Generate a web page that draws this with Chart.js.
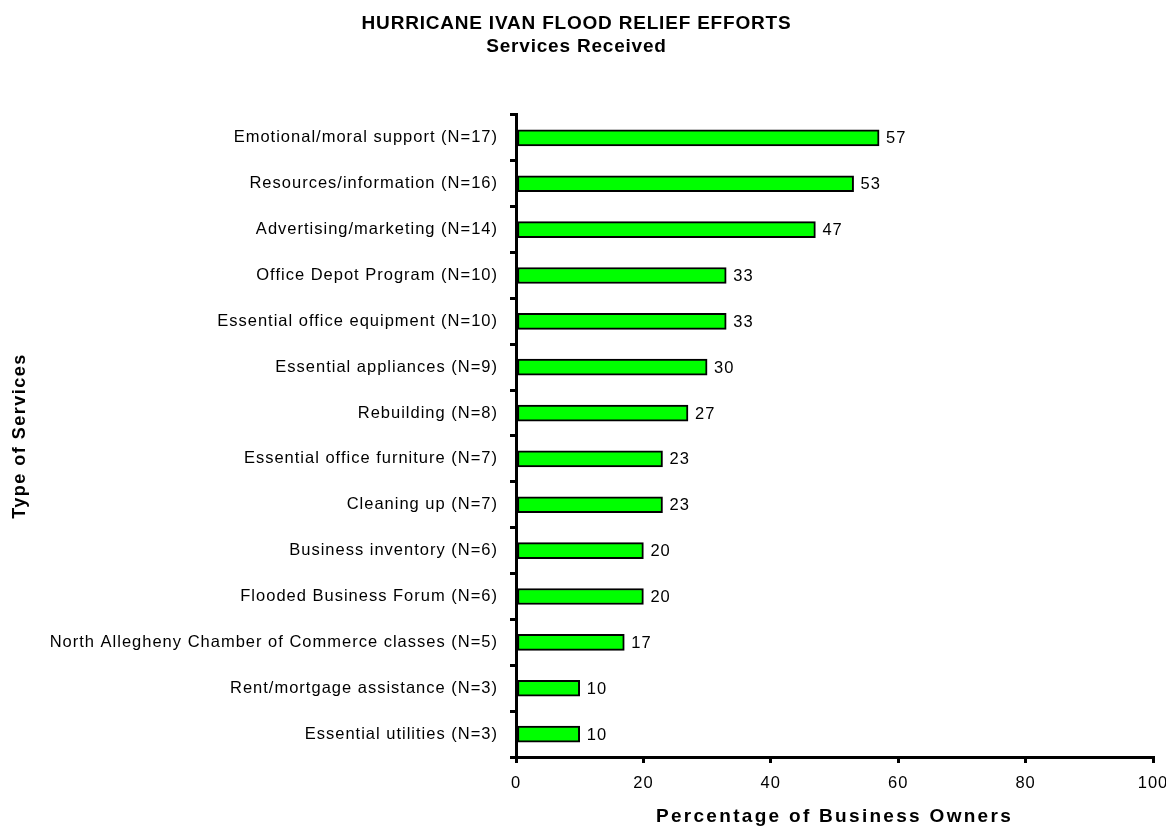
<!DOCTYPE html>
<html>
<head>
<meta charset="utf-8">
<script src="https://cdn.jsdelivr.net/npm/chart.js@4"></script>
<style>
  html, body { margin: 0; padding: 0; background: #ffffff; }
  #wrap { width: 1166px; height: 830px; position: relative; }
</style>
</head>
<body>
<div id="wrap"><canvas id="chart"></canvas></div>
<script>
// Services received, listed top to bottom
const categories = [
  'Emotional/moral support (N=17)',
  'Resources/information (N=16)',
  'Advertising/marketing (N=14)',
  'Office Depot Program (N=10)',
  'Essential office equipment (N=10)',
  'Essential appliances (N=9)',
  'Rebuilding (N=8)',
  'Essential office furniture (N=7)',
  'Cleaning up (N=7)',
  'Business inventory (N=6)',
  'Flooded Business Forum (N=6)',
  'North Allegheny Chamber of Commerce classes (N=5)',
  'Rent/mortgage assistance (N=3)',
  'Essential utilities (N=3)'
];

// Percentage of business owners receiving each service
const percentages = [57, 53, 47, 33, 33, 30, 27, 23, 23, 20, 20, 17, 10, 10];

// Value axis tick values
const xTicks = [0, 20, 40, 60, 80, 100];

const titleLines = ['HURRICANE IVAN FLOOD RELIEF EFFORTS', 'Services Received'];
const xTitle = 'Percentage of Business Owners';
const yTitle = 'Type of Services';

const FONT = "'Liberation Sans', Arial, sans-serif";

// Run one drawing method of an element with a given letter spacing
function spaced(obj, method, sp) {
  if (!obj || obj['_spaced_' + method]) return;
  const orig = obj[method];
  obj[method] = function (...args) {
    const ctx = this.ctx;
    const prev = ctx.letterSpacing;
    ctx.letterSpacing = sp;
    const out = orig.apply(this, args);
    ctx.letterSpacing = prev;
    return out;
  };
  obj['_spaced_' + method] = true;
}

const letterSpacingPlugin = {
  id: 'letterSpacing',
  afterLayout(chart) {
    spaced(chart.titleBlock, 'draw', '0.8px');
    spaced(chart.scales.x, 'drawLabels', '1px');
    spaced(chart.scales.x, 'drawTitle', '2.3px');
    spaced(chart.scales.y, 'drawLabels', '1px');
    spaced(chart.scales.y, 'drawTitle', '1.5px');
  }
};

// Write each value just past the end of its bar
const valueLabelPlugin = {
  id: 'valueLabels',
  afterDatasetsDraw(chart) {
    const ctx = chart.ctx;
    const meta = chart.getDatasetMeta(0);
    ctx.save();
    ctx.letterSpacing = '1px';
    ctx.font = '16.5px ' + FONT;
    ctx.fillStyle = '#000000';
    ctx.textAlign = 'left';
    ctx.textBaseline = 'middle';
    meta.data.forEach((bar, i) => {
      ctx.fillText(String(percentages[i]), bar.x + 7, bar.y + 1);
    });
    ctx.restore();
  }
};

Chart.defaults.font.family = FONT;
Chart.defaults.color = '#000000';

new Chart(document.getElementById('chart'), {
  type: 'bar',
  data: {
    labels: categories,
    datasets: [{
      data: percentages,
      backgroundColor: '#00ff00',
      borderColor: '#000000',
      borderWidth: 2,
      borderSkipped: false,
      barThickness: 16
    }]
  },
  plugins: [letterSpacingPlugin, valueLabelPlugin],
  options: {
    indexAxis: 'y',
    responsive: true,
    maintainAspectRatio: false,
    animation: false,
    layout: { padding: { left: 0, right: 13, top: 0, bottom: 0 } },
    plugins: {
      legend: { display: false },
      tooltip: { enabled: false },
      title: {
        display: true,
        text: titleLines,
        color: '#000000',
        font: { size: 19, weight: 'bold', family: FONT, lineHeight: 1.21 },
        padding: { top: 12.5, bottom: 56.5 }
      }
    },
    scales: {
      x: {
        type: 'linear',
        min: xTicks[0],
        max: xTicks[xTicks.length - 1],
        afterBuildTicks(scale) { scale.ticks = xTicks.map(v => ({ value: v })); },
        afterFit(scale) {
          scale.height = 73;
          scale.paddingLeft = 0;
          scale.paddingRight = 0;
        },
        border: { display: true, color: '#000000', width: 3 },
        grid: {
          display: true,
          drawOnChartArea: false,
          drawTicks: true,
          tickLength: 6,
          color: '#000000',
          lineWidth: 3
        },
        ticks: {
          color: '#000000',
          font: { size: 16.5, family: FONT },
          padding: 11,
          maxRotation: 0
        },
        title: {
          display: true,
          text: xTitle,
          color: '#000000',
          font: { size: 19, weight: 'bold', family: FONT },
          padding: { top: 13, bottom: 2 }
        }
      },
      y: {
        type: 'category',
        offset: true,
        afterFit(scale) { scale.width = 516; },
        border: { display: true, color: '#000000', width: 3 },
        grid: {
          display: true,
          offset: true,
          drawOnChartArea: false,
          drawTicks: true,
          tickLength: 6,
          color: '#000000',
          lineWidth: 3
        },
        ticks: {
          color: '#000000',
          font: { size: 16.5, family: FONT },
          padding: 12,
          autoSkip: false
        },
        title: {
          display: true,
          text: yTitle,
          color: '#000000',
          font: { size: 18, weight: 'bold', family: FONT },
          padding: { top: 9, bottom: 4 }
        }
      }
    }
  }
});
</script>
</body>
</html>
